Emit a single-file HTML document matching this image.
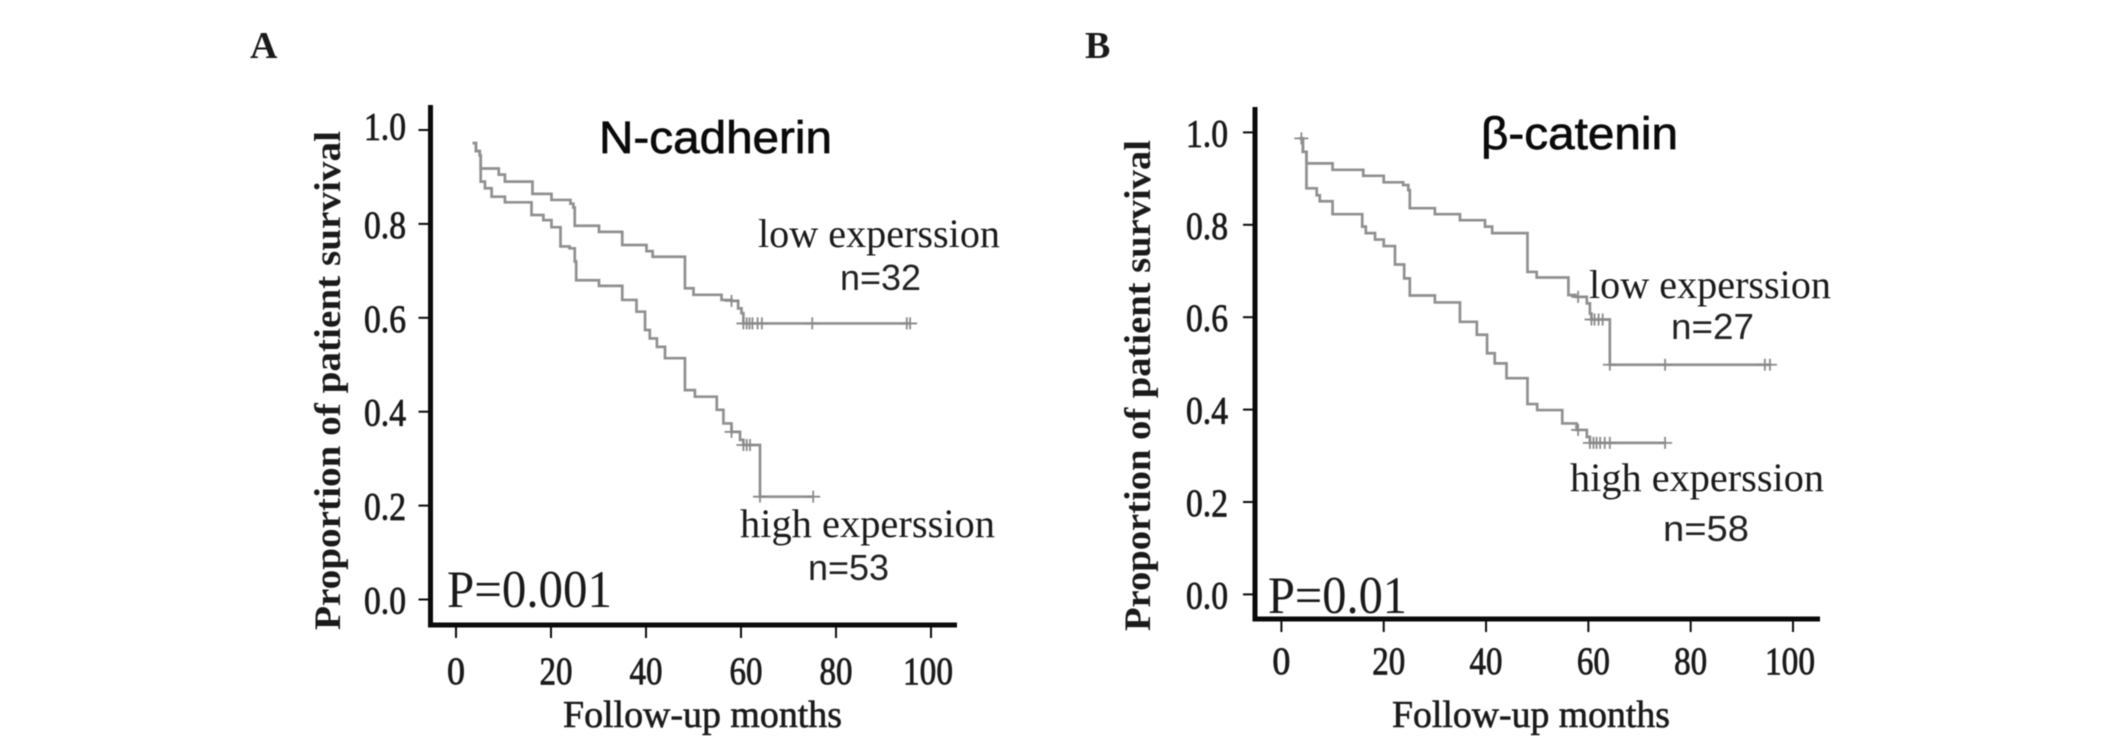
<!DOCTYPE html>
<html lang="en">
<head>
<meta charset="utf-8">
<title>Kaplan-Meier survival curves: N-cadherin and β-catenin</title>
<style>
html,body{margin:0;padding:0;background:#fff;}
body{width:2126px;height:736px;overflow:hidden;}
svg{display:block;filter:blur(0.6px);}
text{fill:#1a1a1a;}
.serif{font-family:"Liberation Serif",serif;}
.sans{font-family:"Liberation Sans",sans-serif;}
.bold{font-weight:bold;}
.panel{font-size:38px;}
.title{font-size:45px;fill:#0a0a0a;stroke:#0a0a0a;stroke-width:0.7px;}
.label{font-size:40px;}
.count{font-size:36px;fill:#222;}
.pval{font-size:53px;}
.ytitle{font-size:37px;}
.xtitle{font-size:38px;stroke:#1a1a1a;stroke-width:0.6px;}
.tick{font-size:39px;stroke:#1a1a1a;stroke-width:0.8px;}
</style>
</head>
<body>
<svg id="chart" width="2126" height="736" viewBox="0 0 2126 736" xmlns="http://www.w3.org/2000/svg">
  <text class="serif bold panel" x="250" y="58">A</text>
  <text class="serif bold panel" x="1085" y="58">B</text>

  <g id="panel-a">
    <text class="sans title" x="599" y="153" textLength="233" lengthAdjust="spacingAndGlyphs">N-cadherin</text>
    <text class="serif bold ytitle" transform="translate(340,630) rotate(-90)" textLength="499" lengthAdjust="spacingAndGlyphs">Proportion of patient survival</text>
    <text class="serif xtitle" x="563" y="727" textLength="279" lengthAdjust="spacingAndGlyphs">Follow-up months</text>
    <text class="serif label" x="758" y="247" textLength="242" lengthAdjust="spacingAndGlyphs">low experssion</text>
    <text class="sans count" x="840" y="290" textLength="81" lengthAdjust="spacingAndGlyphs">n=32</text>
    <text class="serif label" x="740" y="537" textLength="255" lengthAdjust="spacingAndGlyphs">high experssion</text>
    <text class="sans count" x="808" y="580" textLength="81" lengthAdjust="spacingAndGlyphs">n=53</text>
    <text class="serif pval" x="447" y="607" textLength="165" lengthAdjust="spacingAndGlyphs">P=0.001</text>
  </g>

  <g id="panel-b">
    <text class="sans title" x="1481" y="149" textLength="197" lengthAdjust="spacingAndGlyphs">β-catenin</text>
    <text class="serif bold ytitle" transform="translate(1150,631) rotate(-90)" textLength="491" lengthAdjust="spacingAndGlyphs">Proportion of patient survival</text>
    <text class="serif xtitle" x="1392" y="727" textLength="278" lengthAdjust="spacingAndGlyphs">Follow-up months</text>
    <text class="serif label" x="1589" y="298" textLength="242" lengthAdjust="spacingAndGlyphs">low experssion</text>
    <text class="sans count" x="1671" y="339" textLength="83" lengthAdjust="spacingAndGlyphs">n=27</text>
    <text class="serif label" x="1570" y="491" textLength="254" lengthAdjust="spacingAndGlyphs">high experssion</text>
    <text class="sans count" x="1663" y="541" textLength="86" lengthAdjust="spacingAndGlyphs">n=58</text>
    <text class="serif pval" x="1268" y="613" textLength="139" lengthAdjust="spacingAndGlyphs">P=0.01</text>
  </g>
</svg>

<script>
// Axis tick labels
const xTickValues = [0, 20, 40, 60, 80, 100];
const yTickValues = [0.0, 0.2, 0.4, 0.6, 0.8, 1.0];

// Panel A: N-cadherin, low expression
const lowAMonths = [3.5, 4.2, 5.0, 5.2, 9.0, 10.3, 16.1, 20.1, 24.1, 24.7, 25.0, 30.1, 35.0, 40.1, 41.4, 48.2, 50.0, 55.9, 58.0, 59.4, 60.1, 60.5, 95.6];
const lowASurvival = [0.972, 0.955, 0.946, 0.918, 0.905, 0.890, 0.864, 0.851, 0.843, 0.835, 0.796, 0.783, 0.755, 0.742, 0.730, 0.663, 0.649, 0.638, 0.636, 0.620, 0.610, 0.588, 0.588];
const lowACensored = [58.0, 60.5, 61.2, 61.8, 62.4, 63.5, 64.4, 75.0, 94.9, 95.6];

// Panel A: N-cadherin, high expression
const highAMonths = [3.5, 4.2, 5.0, 5.2, 6.1, 7.5, 10.3, 15.9, 18.4, 20.1, 22.0, 23.9, 25.0, 25.3, 30.1, 35.0, 38.0, 39.8, 40.8, 42.3, 44.0, 48.2, 50.3, 54.9, 56.3, 58.0, 59.8, 60.5, 64.0, 75.2];
const highASurvival = [0.972, 0.955, 0.946, 0.890, 0.876, 0.858, 0.846, 0.819, 0.808, 0.793, 0.752, 0.748, 0.720, 0.680, 0.668, 0.638, 0.613, 0.574, 0.556, 0.538, 0.514, 0.446, 0.432, 0.404, 0.375, 0.357, 0.340, 0.329, 0.219, 0.219];
const highACensored = [58.0, 60.5, 61.2, 61.9, 64.0, 75.2];

// Panel B: beta-catenin, low expression
const lowBMonths = [3.5, 4.2, 4.9, 10.0, 16.0, 20.0, 23.8, 24.8, 25.1, 30.0, 34.9, 39.8, 41.2, 48.1, 49.9, 56.1, 57.5, 59.7, 60.3, 60.6, 64.2, 95.5];
const lowBSurvival = [0.987, 0.958, 0.933, 0.919, 0.906, 0.892, 0.886, 0.875, 0.836, 0.823, 0.810, 0.796, 0.782, 0.698, 0.686, 0.648, 0.644, 0.630, 0.608, 0.595, 0.497, 0.497];
const lowBCensored = [3.9, 58.0, 60.6, 61.2, 62.0, 62.8, 64.2, 75.0, 94.5, 95.5];

// Panel B: beta-catenin, high expression
const highBMonths = [3.5, 4.2, 4.9, 6.9, 7.5, 10.0, 15.8, 16.5, 18.3, 20.0, 22.2, 24.0, 25.1, 30.0, 34.9, 38.2, 40.2, 41.7, 44.0, 48.1, 50.0, 54.9, 57.7, 59.7, 60.3, 75.0];
const highBSurvival = [0.987, 0.958, 0.879, 0.864, 0.851, 0.823, 0.796, 0.782, 0.768, 0.754, 0.714, 0.684, 0.647, 0.632, 0.590, 0.562, 0.522, 0.500, 0.468, 0.412, 0.399, 0.370, 0.356, 0.341, 0.328, 0.328];
const highBCensored = [58.0, 60.3, 61.0, 61.6, 62.3, 63.2, 64.2, 75.0];

const SVG_NS = 'http://www.w3.org/2000/svg';
const CURVE_COLOR = '#909090';

function makeScale(domain0, range0, domain1, range1) {
  return function (value) {
    return range0 + (value - domain0) * (range1 - range0) / (domain1 - domain0);
  };
}

function survivalAt(months, survival, t) {
  let result = survival[0];
  for (let i = 0; i < months.length; i++) {
    if (months[i] <= t) { result = survival[i]; }
  }
  return result;
}

function drawSeries(group, xScale, yScale, months, survival, censored, name) {
  let d = 'M' + xScale(months[0]) + ' ' + yScale(survival[0]);
  for (let i = 1; i < months.length; i++) {
    d += 'H' + xScale(months[i]) + 'V' + yScale(survival[i]);
  }
  const curve = document.createElementNS(SVG_NS, 'path');
  curve.setAttribute('d', d);
  curve.setAttribute('fill', 'none');
  curve.setAttribute('stroke', CURVE_COLOR);
  curve.setAttribute('stroke-width', '2.7');
  
  
  group.appendChild(curve);

  censored.forEach(function (t) {
    const cx = xScale(t);
    const cy = yScale(survivalAt(months, survival, t));
    const mark = document.createElementNS(SVG_NS, 'path');
    mark.setAttribute('d', 'M' + (cx - 7) + ' ' + cy + 'H' + (cx + 7) + 'M' + cx + ' ' + (cy - 6) + 'V' + (cy + 6));
    mark.setAttribute('fill', 'none');
    mark.setAttribute('stroke', '#8a8a8a');
    mark.setAttribute('stroke-width', '1.8');
    
    
    group.appendChild(mark);
  });
}

function addLine(group, x1, y1, x2, y2, width, name) {
  const line = document.createElementNS(SVG_NS, 'line');
  line.setAttribute('x1', x1);
  line.setAttribute('y1', y1);
  line.setAttribute('x2', x2);
  line.setAttribute('y2', y2);
  line.setAttribute('stroke', '#0a0a0a');
  line.setAttribute('stroke-width', width);
  
  
  group.appendChild(line);
}

function addTickLabel(group, x, y, anchor, content, name, length) {
  const label = document.createElementNS(SVG_NS, 'text');
  label.setAttribute('class', 'serif tick');
  label.setAttribute('x', x);
  label.setAttribute('y', y);
  label.setAttribute('text-anchor', anchor);
  label.setAttribute('textLength', length);
  label.setAttribute('lengthAdjust', 'spacingAndGlyphs');
  
  
  label.textContent = content;
  group.appendChild(label);
}

function xLabelNudge(v) {
  if (v === 20 || v === 60) { return 5; }
  if (v === 100) { return -3; }
  return 0;
}

function xLabelLength(v) {
  if (v === 0) { return 18; }
  if (v === 100) { return 50; }
  return 33;
}

function drawAxes(group, xScale, yScale, axisX, axisY, axisTop, axisRight, xLabelY, yLabelRight, yLabelDy, topLabelDy) {
  addLine(group, axisX, axisTop, axisX, axisY + 2.5, 5, 'y-axis-line');
  addLine(group, axisX - 2.5, axisY, axisRight, axisY, 5, 'x-axis-line');
  xTickValues.forEach(function (v) {
    const x = xScale(v);
    addLine(group, x, axisY, x, axisY + 13, 2, 'x-axis-tick');
    addTickLabel(group, x + xLabelNudge(v), xLabelY, 'middle', String(v), 'x-tick-label', xLabelLength(v));
  });
  yTickValues.forEach(function (v) {
    const y = yScale(v);
    addLine(group, axisX - 12, y, axisX, y, 2, 'y-axis-tick');
    addTickLabel(group, yLabelRight, y + (v === 1 ? topLabelDy : yLabelDy), 'end', v.toFixed(1), 'y-tick-label', 42);
  });
}

const groupA = document.getElementById('panel-a');
const xScaleA = makeScale(0, 456, 100, 931);
const yScaleA = makeScale(0, 599.5, 1, 130);
drawSeries(groupA, xScaleA, yScaleA, lowAMonths, lowASurvival, lowACensored, 'low-expression-a');
drawSeries(groupA, xScaleA, yScaleA, highAMonths, highASurvival, highACensored, 'high-expression-a');
drawAxes(groupA, xScaleA, yScaleA, 430.5, 625, 105, 957, 684, 406, 14, 9.5);

const groupB = document.getElementById('panel-b');
const xScaleB = makeScale(0, 1281.4, 100, 1793);
const yScaleB = makeScale(0, 594.4, 1, 132.4);
drawSeries(groupB, xScaleB, yScaleB, lowBMonths, lowBSurvival, lowBCensored, 'low-expression-b');
drawSeries(groupB, xScaleB, yScaleB, highBMonths, highBSurvival, highBCensored, 'high-expression-b');
drawAxes(groupB, xScaleB, yScaleB, 1255, 619, 107, 1820, 674, 1228, 14, 14);
</script>
</body>
</html>
